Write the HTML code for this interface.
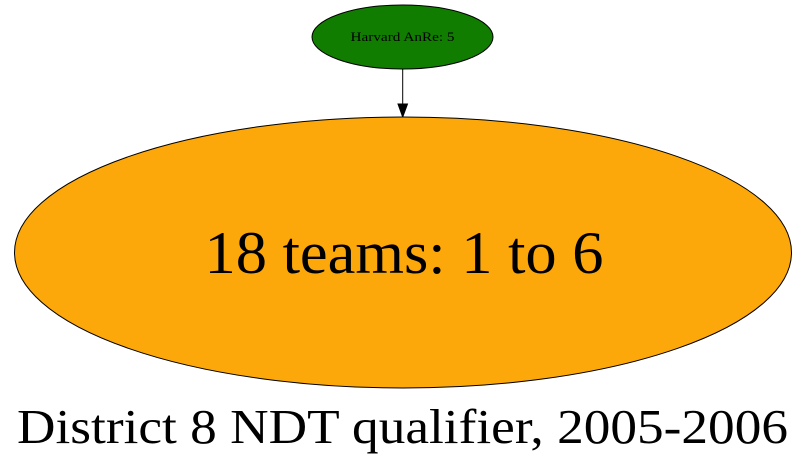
<!DOCTYPE html>
<html><head><meta charset="utf-8"><style>html,body{margin:0;padding:0;background:#fff;}svg{display:block}</style></head>
<body>
<svg width="805" height="465" viewBox="0 0 805 465" xmlns="http://www.w3.org/2000/svg">
<ellipse cx="402.5" cy="37" rx="90.5" ry="32" fill="#117d00" stroke="#000" stroke-width="1"/>
<text x="402.5" y="41" text-anchor="middle" font-family="Liberation Serif, serif" font-size="13" textLength="104" lengthAdjust="spacingAndGlyphs" fill="#000">Harvard AnRe: 5</text>
<line x1="402.7" y1="69" x2="402.7" y2="104" stroke="#000" stroke-width="1"/>
<polygon points="398,104 407.5,104 402.7,117" fill="#000" stroke="#000"/>
<ellipse cx="403" cy="252.5" rx="388.5" ry="135.5" fill="#fca70a" stroke="#000" stroke-width="1"/>
<text x="404" y="273" text-anchor="middle" font-family="Liberation Serif, serif" font-size="60" textLength="399" lengthAdjust="spacingAndGlyphs" fill="#000">18 teams: 1 to 6</text>
<text x="402.5" y="443" text-anchor="middle" font-family="Liberation Serif, serif" font-size="49" textLength="771" lengthAdjust="spacingAndGlyphs" fill="#000">District 8 NDT qualifier, 2005-2006</text>
</svg>
</body></html>
